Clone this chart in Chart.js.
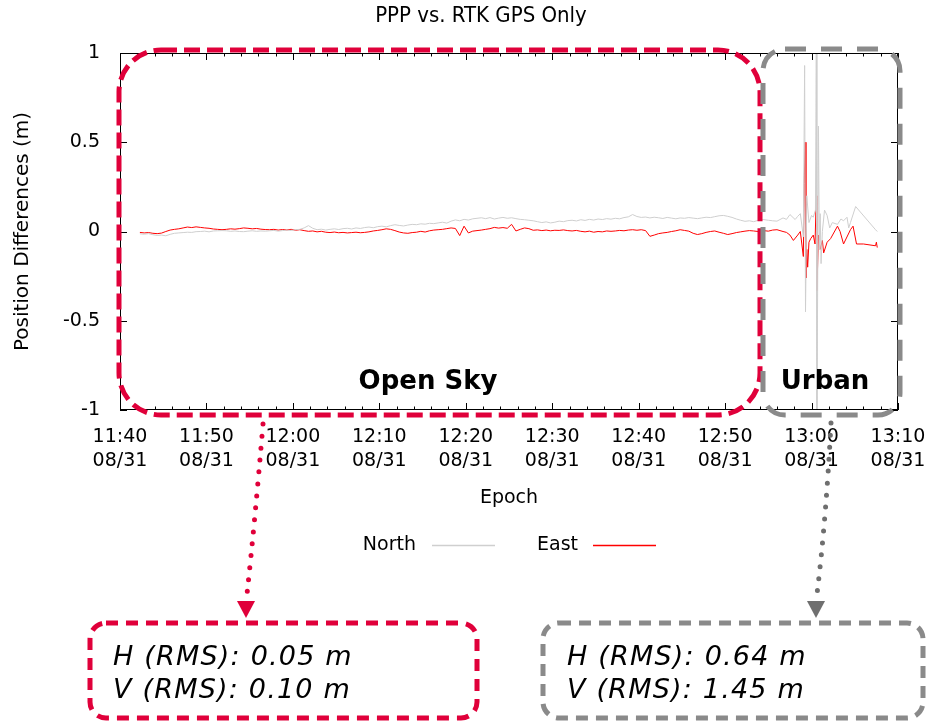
<!DOCTYPE html>
<html><head><meta charset="utf-8">
<script src="https://cdn.jsdelivr.net/npm/chart.js@4.4.1/dist/chart.umd.min.js"></script>
<style>html,body{margin:0;padding:0;background:#fff;overflow:hidden}canvas{display:block}</style>
</head><body>
<canvas id="c" width="927" height="723" style="width:927px;height:723px"></canvas>
<script>
// ---- data (minutes after 11:40, metres) ----
const xTickLabels = ['11:40','11:50','12:00','12:10','12:20','12:30','12:40','12:50','13:00','13:10'];
const xTickDate = '08/31';
const yTickValues = [1, 0.5, 0, -0.5, -1];
const yTickLabels = ['1', '0.5', '0', '-0.5', '-1'];
const seriesNames = ['North', 'East'];

const openStart = 2.3, openStep = 0.5; // regular epochs in open sky
const northOpen = [
 -0.013,-0.015,-0.012,-0.018,-0.022,-0.020,-0.024,-0.016,-0.010,-0.008,
 -0.006,-0.004,-0.005,-0.001,0.000,0.002,-0.002,0.003,0.004,0.005,
 0.004,0.001,0.003,0.000,-0.001,0.002,0.004,0.001,0.003,0.002,
 0.004,0.006,0.002,0.005,0.008,0.006,0.010,0.012,0.020,0.033,
 0.018,0.010,0.013,0.008,0.012,0.015,0.011,0.016,0.018,0.014,
 0.020,0.017,0.022,0.025,0.021,0.027,0.030,0.026,0.033,0.038,
 0.034,0.031,0.036,0.040,0.038,0.043,0.041,0.046,0.044,0.048,
 0.052,0.047,0.058,0.065,0.060,0.068,0.064,0.071,0.074,0.077,
 0.072,0.078,0.070,0.075,0.079,0.074,0.077,0.072,0.068,0.066,
 0.063,0.060,0.055,0.050,0.054,0.048,0.052,0.058,0.055,0.061,
 0.063,0.059,0.066,0.062,0.068,0.064,0.070,0.067,0.072,0.069,
 0.074,0.071,0.078,0.082,0.095,0.084,0.079,0.081,0.076,0.080,
 0.077,0.073,0.079,0.075,0.071,0.076,0.074,0.078,0.075,0.072,
 0.076,0.080,0.078,0.083,0.088,0.090,0.085,0.079,0.070,0.063,
 0.057,0.060
];
const eastOpen = [
 -0.005,-0.008,-0.006,-0.010,-0.012,-0.009,0.000,0.008,0.012,0.015,
 0.020,0.025,0.022,0.026,0.023,0.020,0.018,0.014,0.012,0.010,
 0.012,0.015,0.013,0.016,0.020,0.018,0.015,0.017,0.013,0.011,
 0.010,0.012,0.008,0.011,0.009,0.012,0.007,0.010,0.005,0.001,
 0.003,-0.002,0.001,-0.004,-0.006,-0.003,-0.007,-0.005,-0.008,-0.006,
 -0.004,-0.007,-0.005,-0.002,0.003,0.006,0.010,0.015,0.012,0.005,
 -0.003,-0.008,-0.010,-0.006,-0.004,0.001,-0.003,0.004,0.008,0.010,
 0.012,0.016,0.020,0.017,-0.023,0.030,-0.008,0.002,0.005,0.008,
 0.012,0.016,0.023,0.019,0.022,0.018,0.040,0.003,0.012,0.020,
 0.016,0.007,0.009,0.005,0.008,0.004,0.007,0.006,0.009,0.005,
 0.003,0.006,0.001,-0.002,0.002,-0.004,0.000,-0.002,0.003,0.001,
 0.003,0.006,0.004,0.008,0.010,0.007,0.010,0.005,-0.027,-0.020,
 -0.012,-0.008,-0.005,0.000,0.004,0.010,0.006,0.002,-0.010,-0.017,
 -0.012,-0.005,0.000,0.003,-0.004,-0.010,-0.017,-0.012,-0.006,-0.002,
 0.002,0.005
];
const northUrbanTimes = [73.3,73.8,74.4,75.0,75.5,76.0,76.7,77.1,77.5,78.1,78.4,78.7,79.05,79.2,79.3,79.45,79.7,80.0,80.2,80.45,80.55,80.62,80.8,80.9,81.0,81.1,81.25,81.5,81.8,82.1,82.4,83.0,83.4,83.7,84.1,84.3,84.5,85.1,87.4,87.6];
const northUrban      = [0.055,0.062,0.067,0.063,0.060,0.058,0.076,0.068,0.095,0.067,0.085,0.10,-0.03,0.93,-0.45,0.2,0.05,0.09,0.08,0.12,1.05,-1.1,0.59,-0.1,0.1,-0.18,0.0,0.12,0.09,0.02,0.05,0.04,0.07,0.06,0.08,0.02,0.05,0.14,0.01,0.0];
const eastUrbanTimes = [73.3,73.8,74.4,75.0,75.5,76.0,76.7,77.1,77.5,77.9,78.4,78.7,79.05,79.15,79.25,79.35,79.45,79.55,79.7,79.9,80.2,80.4,80.55,80.62,80.8,81.0,81.25,81.4,81.8,82.2,83.0,83.3,83.7,84.5,84.8,85.2,86.0,87.4,87.5,87.6];
const eastUrban      = [0.003,0.0,0.005,0.002,0.008,0.01,0.0,-0.005,-0.02,-0.05,-0.02,0.0,-0.14,0.27,0.5,-0.26,-0.1,-0.2,-0.06,-0.04,-0.02,-0.07,0.2,-0.33,-0.02,-0.1,-0.05,-0.12,-0.06,-0.04,0.03,0.0,-0.07,0.01,0.03,-0.07,-0.07,-0.08,-0.06,-0.09];

const calloutOpen = ['H (RMS): 0.05 m', 'V (RMS): 0.10 m'];
const calloutUrban = ['H (RMS): 0.64 m', 'V (RMS): 1.45 m'];

// ---- build points ----
function buildSeries(openVals, urbanT, urbanV) {
  const pts = openVals.map((v, i) => ({x: openStart + i * openStep, y: v}));
  urbanT.forEach((t, i) => pts.push({x: t, y: urbanV[i]}));
  return pts;
}
const northPts = buildSeries(northOpen, northUrbanTimes, northUrban);
const eastPts = buildSeries(eastOpen, eastUrbanTimes, eastUrban);

const FONT = 'DejaVu Sans, Verdana, sans-serif';
const RED = '#e0003a', GREY = '#8a8a8a';

function drawDotted(ctx, pts, color) {
  ctx.save();
  ctx.strokeStyle = color; ctx.lineWidth = 5; ctx.lineCap = 'round';
  ctx.setLineDash([0, 12]);
  ctx.beginPath(); ctx.moveTo(pts[0][0], pts[0][1]);
  ctx.quadraticCurveTo(pts[1][0], pts[1][1], pts[2][0], pts[2][1]);
  ctx.stroke(); ctx.restore();
}
function tri(ctx, cx, tipY, color) {
  ctx.fillStyle = color; ctx.beginPath();
  ctx.moveTo(cx - 9, tipY - 17); ctx.lineTo(cx + 9, tipY - 17); ctx.lineTo(cx, tipY); ctx.closePath(); ctx.fill();
}
function dashRect(ctx, x, y, w, h, r, color, dash, lw) {
  ctx.save(); ctx.strokeStyle = color; ctx.lineWidth = lw; ctx.setLineDash(dash);
  ctx.beginPath(); ctx.roundRect(x, y, w, h, r); ctx.stroke(); ctx.restore();
}

const overlay = {
  id: 'overlay',
  afterDatasetsDraw(chart) {
    const {ctx, chartArea: a, scales: {x, y}} = chart;
    ctx.save();
    ctx.strokeStyle = '#000'; ctx.lineWidth = 1;
    ctx.beginPath();
    for (let m = 0; m <= 90; m += 2) {
      const px = Math.round(x.getPixelForValue(m)) + 0.5;
      const len = m % 10 === 0 ? 7 : 3.5;
      ctx.moveTo(px, a.bottom); ctx.lineTo(px, a.bottom - len);
      ctx.moveTo(px, a.top); ctx.lineTo(px, a.top + len);
    }
    yTickValues.forEach(v => {
      const py = Math.round(y.getPixelForValue(v)) + 0.5;
      ctx.moveTo(a.left, py); ctx.lineTo(a.left + 7, py);
      ctx.moveTo(a.right, py); ctx.lineTo(a.right - 7, py);
    });
    ctx.stroke();
    ctx.strokeRect(a.left + 0.5, a.top + 0.5, a.right - a.left - 1, a.bottom - a.top - 1);
    ctx.restore();
  },
  afterDraw(chart) {
    const {ctx} = chart;
    ctx.save();
    // title
    ctx.fillStyle = '#000'; ctx.textAlign = 'center'; ctx.textBaseline = 'middle';
    ctx.font = '22px "DejaVu Sans Condensed", "Liberation Sans Narrow", sans-serif';
    ctx.fillText('PPP vs. RTK GPS Only', 481, 16);
    // legend
    ctx.font = '19px ' + FONT; ctx.textAlign = 'right';
    const ds = chart.data.datasets;
    ctx.fillText(ds[0].label, 416, 545);
    ctx.fillText(ds[1].label, 578, 545);
    ctx.lineWidth = 1.5;
    ctx.strokeStyle = '#cfcfcf'; ctx.beginPath(); ctx.moveTo(432, 545.5); ctx.lineTo(495, 545.5); ctx.stroke();
    ctx.strokeStyle = '#ff0000'; ctx.beginPath(); ctx.moveTo(593, 545.5); ctx.lineTo(656, 545.5); ctx.stroke();
    // region boxes
    dashRect(ctx, 119, 50, 641, 365, 42, RED, [16, 7], 5);
    dashRect(ctx, 763, 49, 137, 366, 22, GREY, [21, 15], 5);
    ctx.fillStyle = '#000'; ctx.textAlign = 'center';
    ctx.font = 'bold 26px ' + FONT;
    ctx.fillText('Open Sky', 428, 382);
    ctx.fillText('Urban', 825, 382);
    // arrows
    drawDotted(ctx, [[263, 424], [255, 520], [247, 594]], RED);
    tri(ctx, 246, 618, RED);
    drawDotted(ctx, [[831, 423], [826, 520], [817, 594]], '#6f6f6f');
    tri(ctx, 816, 618, '#6f6f6f');
    // callouts
    dashRect(ctx, 90, 623, 387, 95, 16, RED, [12, 8], 5);
    dashRect(ctx, 543, 623, 380, 95, 16, GREY, [12, 8], 5);
    ctx.fillStyle = '#000'; ctx.textAlign = 'left'; ctx.textBaseline = 'alphabetic';
    ctx.font = 'italic 27px ' + FONT;
    ctx.letterSpacing = '1.2px';
    ctx.fillText(calloutOpen[0], 113, 665);
    ctx.fillText(calloutOpen[1], 113, 698);
    ctx.fillText(calloutUrban[0], 567, 665);
    ctx.fillText(calloutUrban[1], 567, 698);
    ctx.restore();
  }
};

new Chart(document.getElementById('c'), {
  type: 'line',
  data: {
    datasets: [
      {label: seriesNames[0], data: northPts, borderColor: '#cfcfcf', borderWidth: 1, pointRadius: 0, tension: 0},
      {label: seriesNames[1], data: eastPts, borderColor: '#ff0000', borderWidth: 1, pointRadius: 0, tension: 0}
    ]
  },
  options: {
    responsive: false, animation: false, devicePixelRatio: 1,
    layout: {padding: {left: 0, right: 29, top: 53, bottom: 0}},
    plugins: {legend: {display: false}, title: {display: false}, tooltip: {enabled: false}},
    scales: {
      x: {
        type: 'linear', min: 0, max: 90,
        grid: {display: false, drawTicks: false}, border: {display: false},
        ticks: {
          stepSize: 10, maxRotation: 0, autoSkip: false, padding: 15, color: '#000',
          font: {family: FONT, size: 19, lineHeight: 1.25},
          callback: (v) => [xTickLabels[Math.round(v / 10)], xTickDate]
        },
        title: {display: true, text: 'Epoch', color: '#000', font: {family: FONT, size: 19}, padding: {top: 0, bottom: 214}},
        afterFit: (s) => { s.height = 313; s.paddingLeft = 0; s.paddingRight = 0; }
      },
      y: {
        min: -1, max: 1,
        grid: {display: false, drawTicks: false}, border: {display: false},
        ticks: {stepSize: 0.5, padding: 20, color: '#000', font: {family: FONT, size: 19},
          callback: (v) => { const i = yTickValues.indexOf(v); return i >= 0 ? yTickLabels[i] : ''; }},
        title: {display: true, text: 'Position Differences (m)', color: '#000', font: {family: FONT, size: 20}, padding: {top: 11, bottom: 0}},
        afterFit: (s) => { s.width = 120; }
      }
    }
  },
  plugins: [overlay]
});
</script></body></html>
